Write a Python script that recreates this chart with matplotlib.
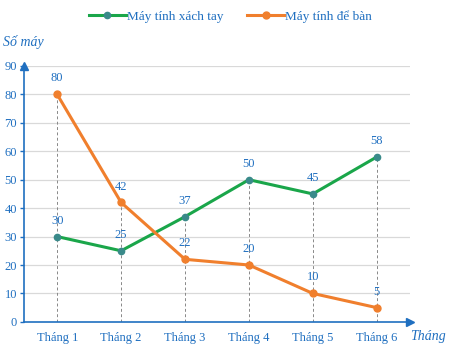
import matplotlib.pyplot as plt

plt.rcParams["font.family"] = ["Liberation Serif", "DejaVu Serif"]

months = ["Tháng 1", "Tháng 2", "Tháng 3", "Tháng 4", "Tháng 5", "Tháng 6"]
laptop = [30, 25, 37, 50, 45, 58]
desktop = [80, 42, 22, 20, 10, 5]
y_ticks = [0, 10, 20, 30, 40, 50, 60, 70, 80, 90]

blue = "#1f6fc0"
green = "#1aa64a"
orange = "#f07f2d"

fig = plt.figure(figsize=(4.52, 3.51), dpi=100)
ax = fig.add_axes([0.053, 0.083, 0.854, 0.729])

x = list(range(len(months)))

for ax_grid in y_ticks[1:]:
    ax.axhline(ax_grid, color="#d9d9d9", linewidth=0.9, zorder=0)

for i in x:
    ax.plot([i, i], [0, max(laptop[i], desktop[i])], color="#888888",
            linestyle=(0, (3, 2.5)), linewidth=0.7, zorder=1)

ax.plot(x, laptop, color=green, linewidth=2.2, marker="o", markersize=4.5,
        markerfacecolor="#3a8a8a", markeredgecolor="#3a8a8a", label="Máy tính xách tay", zorder=3)
ax.plot(x, desktop, color=orange, linewidth=2.2, marker="o", markersize=5,
        markerfacecolor=orange, markeredgecolor=orange, label="Máy tính để bàn", zorder=3)

for i in x:
    ax.text(i, laptop[i] + 3.5, str(laptop[i]), ha="center", va="bottom", color=blue, fontsize=9)
    ax.text(i, desktop[i] + 3.5, str(desktop[i]), ha="center", va="bottom", color=blue, fontsize=9)

ax.set_xlim(-0.52, 5.52)
ax.set_ylim(0, 90)
ax.set_xticks(x)
ax.set_xticklabels(months, color=blue, fontsize=9)
ax.set_yticks(y_ticks)
ax.set_yticklabels([str(v) for v in y_ticks], color=blue, fontsize=9)
ax.tick_params(axis="x", length=0, pad=7)
ax.tick_params(axis="y", length=3, width=1, color=blue, pad=2)

for side in ["top", "right"]:
    ax.spines[side].set_visible(False)
ax.spines["left"].set_color(blue)
ax.spines["bottom"].set_color(blue)
ax.spines["left"].set_linewidth(1.2)
ax.spines["bottom"].set_linewidth(1.2)

ax.plot(1, 0, ">", color=blue, markersize=6, transform=ax.transAxes, clip_on=False)
ax.plot(0, 1, "^", color=blue, markersize=6, transform=ax.transAxes, clip_on=False)

fig.text(0.006, 0.87, "Số máy", color=blue, fontsize=10, style="italic")
fig.text(0.907, 0.032, "Tháng", color=blue, fontsize=10, style="italic")

leg = fig.legend(loc="upper center", bbox_to_anchor=(0.51, 1.005), ncol=2, frameon=False,
                 fontsize=9.5, handlelength=2.8, columnspacing=1.8, handletextpad=0.1)
for t in leg.get_texts():
    t.set_color(blue)

fig.savefig("out.png", dpi=100)
